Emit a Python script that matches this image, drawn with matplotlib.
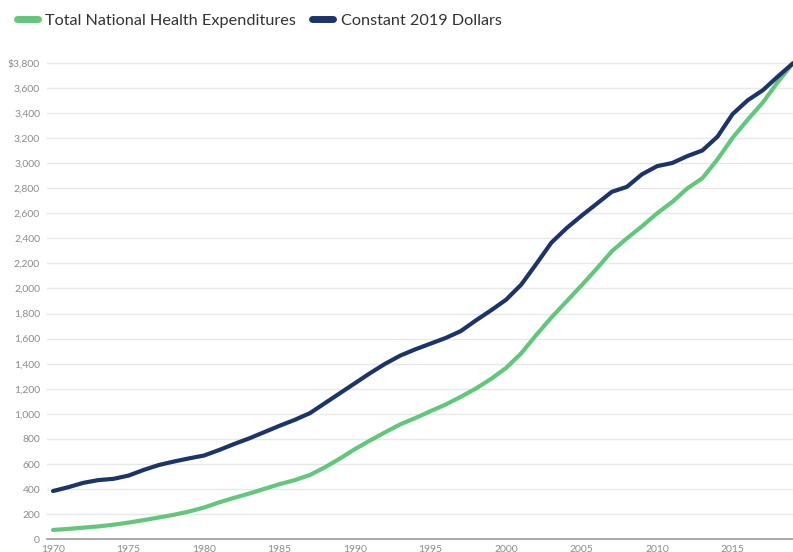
import numpy as np
import matplotlib.pyplot as plt
from matplotlib.lines import Line2D
from matplotlib.ticker import FuncFormatter

plt.rcParams['font.family'] = ['Lato', 'DejaVu Sans']

# --- Datos (miles de millones de dólares) ---
years = list(range(1970, 2020))
total_nhe = [74.6, 82.7, 92.7, 102.8, 116.5, 133.3, 152.7, 173.9, 195.3, 221.5,
             253.2, 294.5, 330.8, 365.0, 402.5, 439.6, 471.5, 512.4, 573.5, 643.9,
             719.7, 788.1, 854.1, 916.6, 967.2, 1021.6, 1074.4, 1135.5, 1202.0, 1278.3,
             1366.0, 1482.4, 1629.0, 1768.2, 1896.2, 2024.5, 2157.0, 2296.2, 2399.1, 2495.4,
             2598.8, 2689.3, 2797.3, 2879.0, 3029.3, 3200.8, 3345.4, 3482.3, 3647.0, 3795.4]
constant_2019 = [385, 415, 450, 472, 482, 508, 553, 592, 620, 645,
                 668, 712, 760, 805, 855, 905, 952, 1005, 1085, 1165,
                 1245, 1325, 1400, 1465, 1515, 1560, 1605, 1660, 1745, 1825,
                 1910, 2030, 2195, 2365, 2480, 2580, 2675, 2770, 2810, 2910,
                 2975, 3000, 3055, 3100, 3210, 3390, 3500, 3580, 3690, 3795.4]
labels = ['Total National Health Expenditures', 'Constant 2019 Dollars']

green = '#62c77a'
navy = '#1c3468'

fig = plt.figure(figsize=(7.93, 5.52), dpi=100)
ax = fig.add_axes([47/793, 12.7/552, 1 - 47/793, (539.3 - 52)/552])

ax.plot(years, total_nhe, color=green, lw=3.0, solid_capstyle='round', zorder=3)
ax.plot(years, constant_2019, color=navy, lw=3.0, solid_capstyle='round', zorder=4)

ax.set_xlim(1969.6, 2019.0)
ax.set_ylim(0, 3885)
ax.set_yticks(np.arange(0, 3801, 200))
ax.set_xticks(np.arange(1970, 2019, 5))
ax.yaxis.set_major_formatter(FuncFormatter(
    lambda v, p: f'${v:,.0f}' if v == 3800 else f'{v:,.0f}'))

ax.grid(axis='y', color='#e8e8e8', lw=1)
ax.set_axisbelow(True)
for s in ['top', 'right', 'left']:
    ax.spines[s].set_visible(False)
ax.spines['bottom'].set_color('#9a9a9a')
ax.spines['bottom'].set_linewidth(1.2)
ax.tick_params(axis='both', length=0, labelsize=7.5, labelcolor='#8c8c8c')
ax.tick_params(axis='y', pad=5)
ax.tick_params(axis='x', pad=4)

# leyenda arriba a la izquierda, como en el original
handles = [Line2D([0], [0], color=green, lw=5, solid_capstyle='round'),
           Line2D([0], [0], color=navy, lw=5, solid_capstyle='round')]
fig.legend(handles, labels, loc='upper left', bbox_to_anchor=(2/793, 1 + 1/552),
           ncol=2, frameon=False, fontsize=11.7, handlelength=1.3,
           handletextpad=0.45, columnspacing=1.0, labelcolor='#333333')

plt.savefig('out.png', dpi=100)
